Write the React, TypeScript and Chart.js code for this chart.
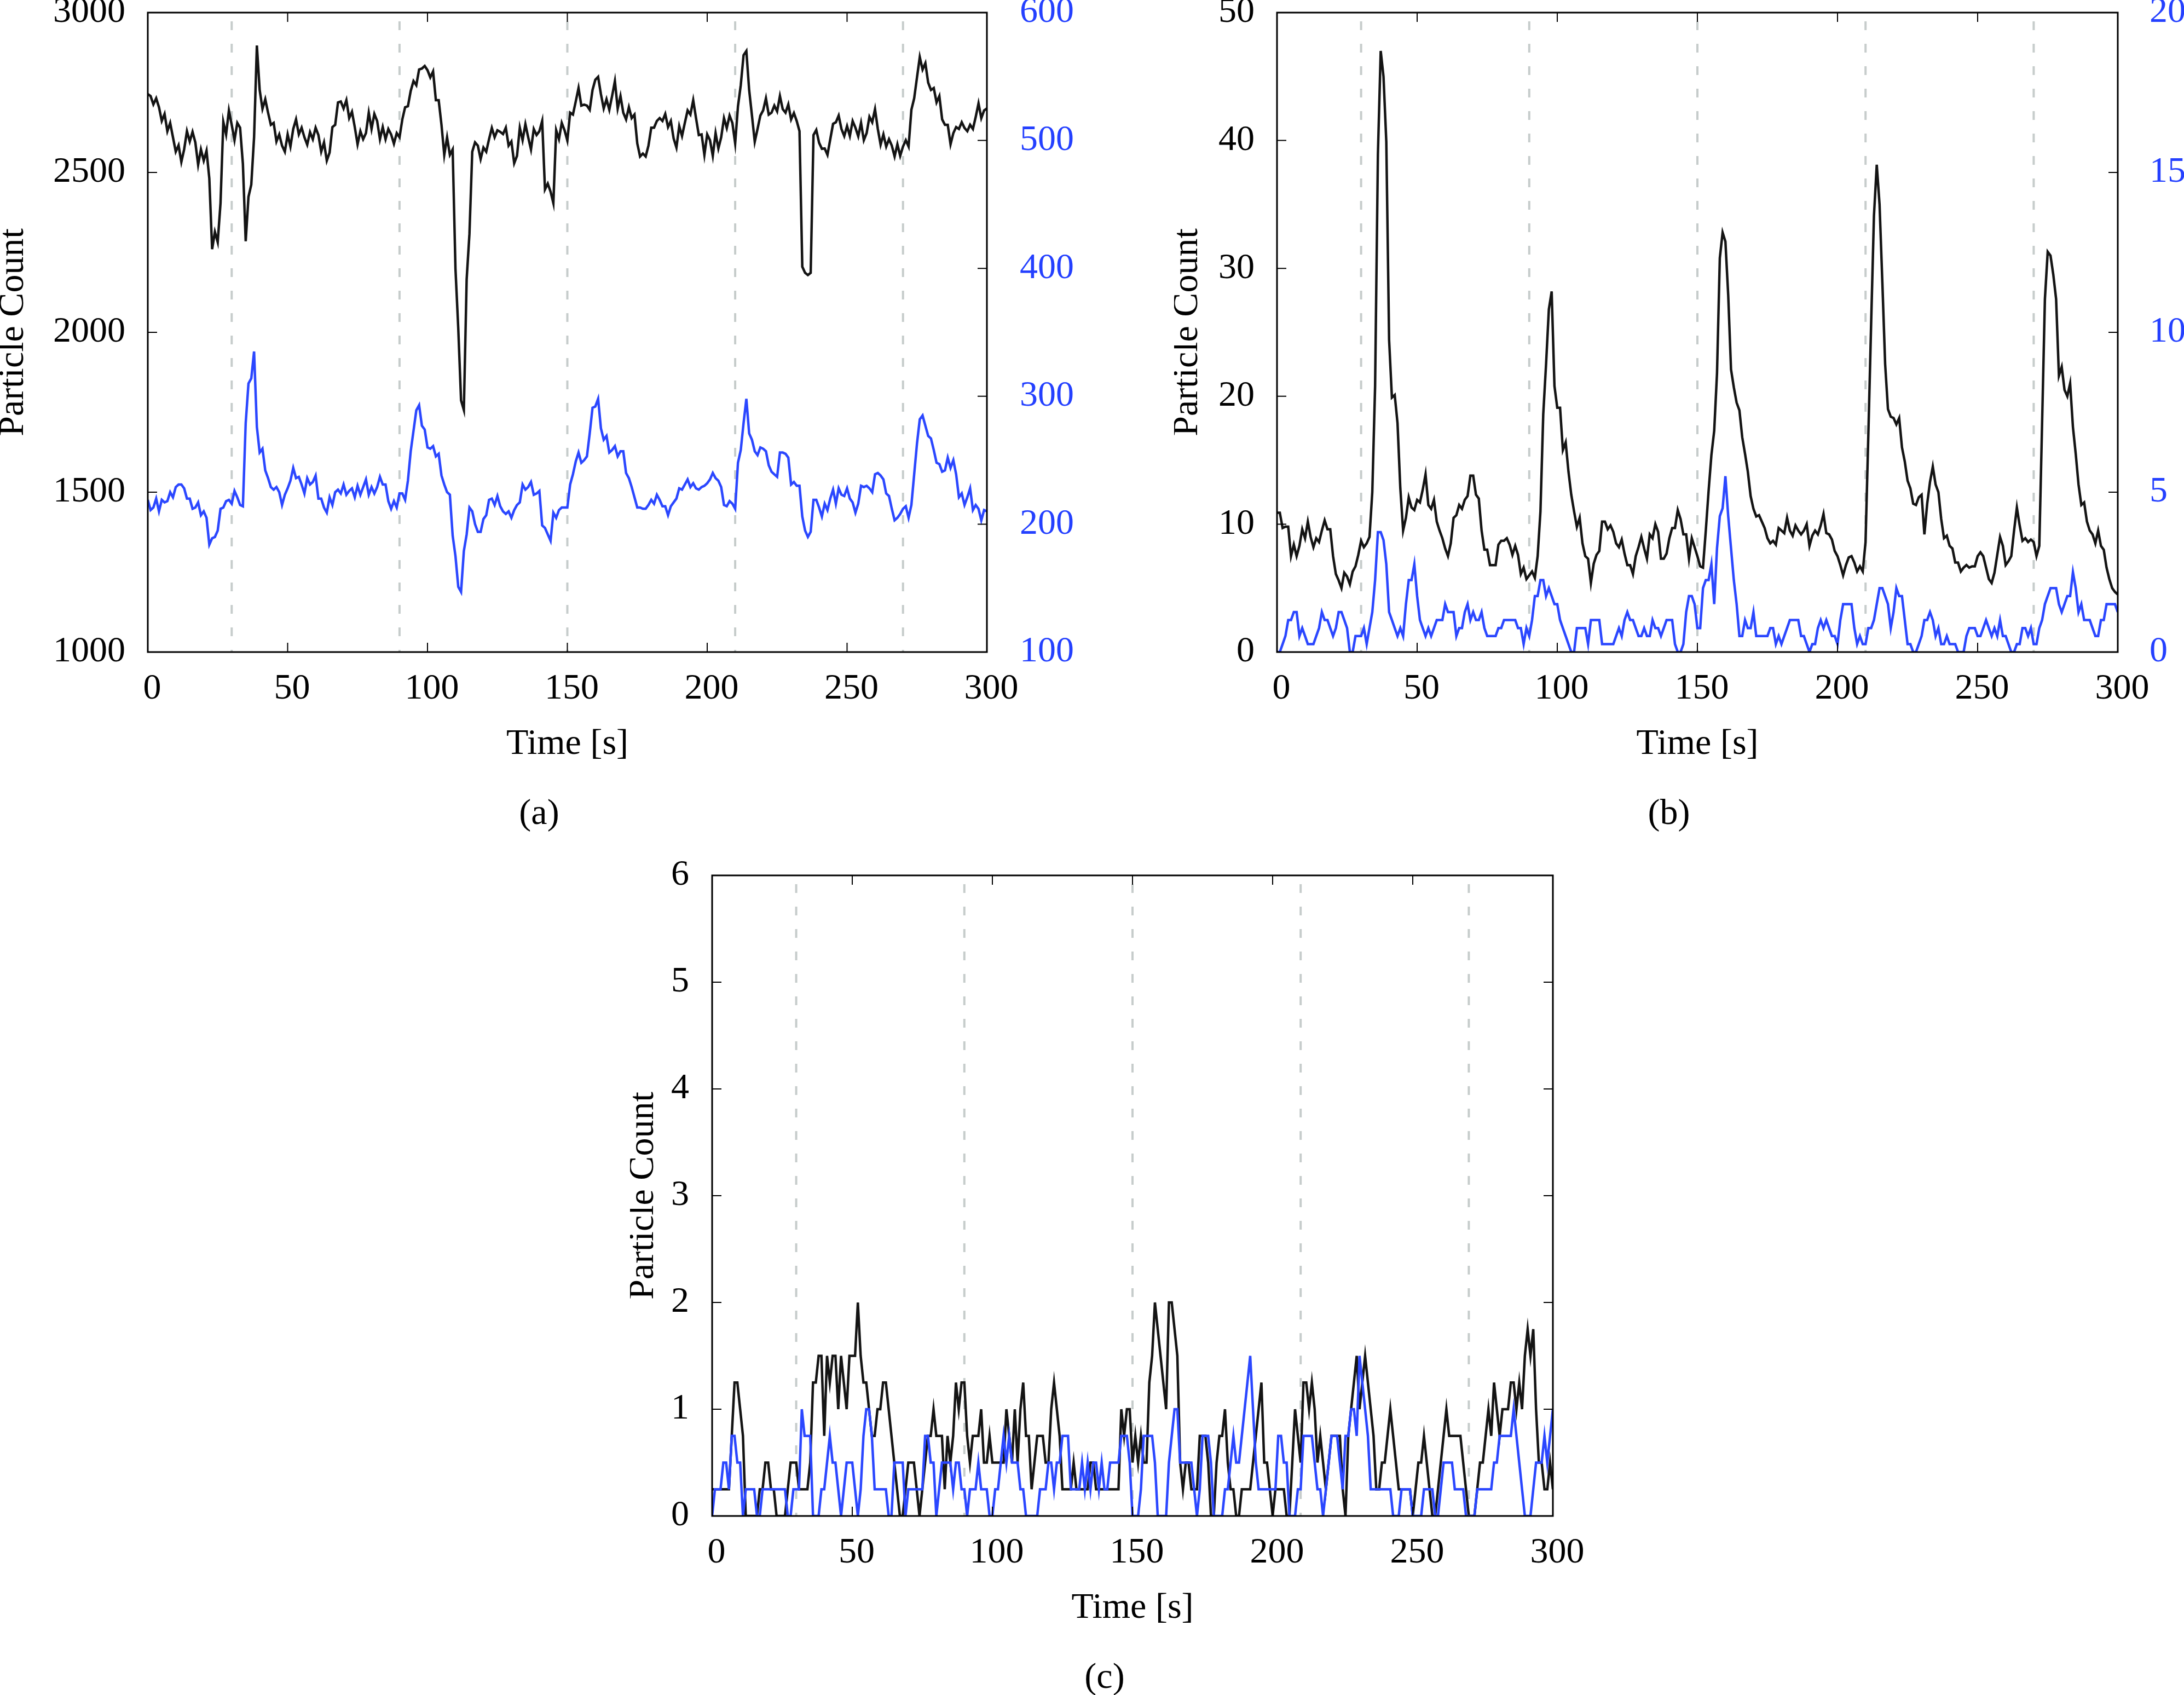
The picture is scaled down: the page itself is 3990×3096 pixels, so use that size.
import React, { useEffect, useRef } from "react";
import { Chart, registerables } from "chart.js";

Chart.register(...registerables);

// ---------------------------------------------------------------------------
// Data (1 s sampling from 0 to 300 s)
// ---------------------------------------------------------------------------
const TIME_S: number[] = Array.from({ length: 301 }, (_, i) => i); // sampling grid
const X_TICK_STEP = 50;
const EVENT_TIMES = [30, 90, 150, 210, 270];
const CAPTIONS = ["(a)", "(b)", "(c)"];
const X_TITLE = "Time [s]";
const Y_TITLE = "Particle Count";

// Panel (a): black on left axis (1000-3000), blue on right axis (100-600)
const A_BLACK = [
  2745, 2739, 2713, 2732, 2704, 2661, 2683, 2629, 2655, 2610,
  2565, 2585, 2533, 2572, 2629, 2597, 2627, 2594, 2524, 2572,
  2537, 2568, 2481, 2260, 2314, 2282, 2404, 2658, 2619, 2694,
  2649, 2601, 2655, 2640, 2527, 2285, 2424, 2462, 2610, 2897,
  2758, 2699, 2729, 2687, 2649, 2655, 2597, 2619, 2584, 2565,
  2619, 2581, 2636, 2666, 2619, 2640, 2610, 2587, 2626, 2604,
  2640, 2617, 2565, 2594, 2537, 2562, 2642, 2649, 2719, 2722,
  2700, 2726, 2670, 2690, 2642, 2588, 2629, 2604, 2623, 2687,
  2636, 2683, 2661, 2604, 2642, 2604, 2636, 2619, 2590, 2623,
  2610, 2666, 2704, 2707, 2755, 2786, 2773, 2822, 2825, 2833,
  2820, 2797, 2816, 2726, 2726, 2649, 2555, 2610, 2555, 2572,
  2199, 2012, 1787, 1757, 2166, 2308, 2565, 2594, 2584, 2542,
  2578, 2565, 2604, 2639, 2610, 2632, 2627, 2620, 2640, 2584,
  2597, 2529, 2552, 2640, 2601, 2651, 2610, 2572, 2636, 2617,
  2629, 2661, 2447, 2465, 2440, 2404, 2632, 2604, 2655, 2632,
  2600, 2687, 2681, 2722, 2764, 2709, 2712, 2709, 2696, 2758,
  2790, 2799, 2745, 2700, 2729, 2696, 2739, 2786, 2700, 2739,
  2687, 2666, 2704, 2670, 2681, 2591, 2550, 2559, 2550, 2584,
  2640, 2640, 2661, 2670, 2661, 2683, 2642, 2661, 2606, 2578,
  2645, 2614, 2655, 2694, 2681, 2726, 2670, 2617, 2619, 2555,
  2619, 2601, 2552, 2623, 2575, 2610, 2670, 2639, 2678, 2655,
  2591, 2707, 2773, 2867, 2880, 2758, 2678, 2596, 2636, 2678,
  2694, 2732, 2681, 2687, 2709, 2691, 2739, 2698, 2687, 2713,
  2666, 2686, 2661, 2629, 2205, 2186, 2179, 2186, 2617, 2633,
  2593, 2574, 2575, 2555, 2604, 2652, 2657, 2678, 2636, 2614,
  2645, 2614, 2661, 2640, 2613, 2655, 2601, 2623, 2674, 2657,
  2698, 2636, 2587, 2619, 2581, 2604, 2584, 2550, 2588, 2552,
  2581, 2601, 2581, 2696, 2732, 2797, 2861, 2822, 2842, 2781,
  2758, 2764, 2719, 2739, 2666, 2649, 2649, 2588, 2623, 2642,
  2636, 2657, 2639, 2629, 2649, 2636, 2674, 2716, 2670, 2694,
  2700,
];
const A_BLUE = [
  219, 211, 213, 220, 210, 219, 217, 218, 225, 221,
  229, 231, 231, 228, 220, 220, 212, 213, 217, 207,
  210, 205, 184, 189, 190, 195, 212, 213, 218, 219,
  216, 226, 221, 215, 214, 279, 310, 314, 335, 276,
  256, 259, 242, 236, 229, 227, 229, 225, 215, 223,
  228, 234, 244, 236, 237, 231, 224, 236, 231, 233,
  238, 220, 220, 213, 209, 221, 215, 225, 227, 224,
  231, 223, 226, 228, 221, 230, 223, 229, 235, 223,
  229, 224, 229, 237, 231, 231, 218, 212, 218, 213,
  224, 224, 219, 234, 257, 273, 289, 293, 277, 274,
  260, 259, 261, 253, 255, 238, 231, 225, 223, 191,
  175, 151, 147, 179, 192, 213, 210, 200, 194, 194,
  204, 207, 219, 220, 215, 222, 214, 210, 208, 210,
  205, 211, 215, 217, 231, 227, 229, 233, 223, 224,
  226, 199, 197, 192, 187, 209, 205, 211, 213, 213,
  213, 231, 239, 249, 256, 248, 250, 253, 271, 291,
  292, 298, 275, 266, 269, 256, 258, 261, 253, 257,
  257, 240, 236, 229, 221, 213, 213, 212, 212, 215,
  219, 216, 223, 219, 214, 214, 207, 214, 217, 220,
  228, 227, 231, 235, 229, 232, 228, 227, 229, 230,
  232, 235, 240, 236, 234, 229, 215, 214, 218, 216,
  212, 248, 258, 279, 298, 271, 266, 257, 254, 260,
  259, 257, 246, 241, 239, 237, 256, 256, 255, 252,
  231, 233, 230, 230, 206, 195, 190, 194, 219, 219,
  213, 206, 216, 211, 220, 227, 216, 228, 223, 222,
  228, 220, 217, 209, 216, 230, 229, 230, 228, 225,
  239, 240, 238, 235, 224, 222, 212, 203, 205, 208,
  212, 214, 205, 215, 239, 263, 282, 285, 277, 269,
  267, 258, 248, 247, 241, 242, 252, 244, 250, 239,
  221, 224, 215, 221, 228, 211, 215, 212, 203, 211,
  210,
];

// Panel (b): black on left axis (0-50), blue on right axis (0-20)
const B_BLACK = [
  10.9, 10.9, 9.7, 9.8, 9.8, 7.5, 8.4, 7.5, 8.3, 9.6,
  8.9, 10.2, 9.0, 8.2, 8.9, 8.6, 9.5, 10.3, 9.6, 9.6,
  7.5, 6.1, 5.6, 5.0, 6.2, 5.9, 5.3, 6.3, 6.7, 7.6,
  8.7, 8.2, 8.5, 9.0, 12.5, 20.8, 38.9, 47.0, 45.0, 39.9,
  24.4, 19.9, 20.1, 17.9, 12.8, 9.5, 10.5, 12.1, 11.3, 11.1,
  11.9, 11.7, 12.7, 13.9, 11.5, 11.2, 11.9, 10.2, 9.5, 8.9,
  8.1, 7.5, 8.5, 10.5, 10.7, 11.5, 11.2, 11.9, 12.2, 13.8,
  13.8, 12.3, 12.0, 9.5, 8.0, 8.0, 6.8, 6.8, 6.8, 8.4,
  8.7, 8.7, 8.9, 8.4, 7.6, 8.3, 7.6, 6.1, 6.6, 5.7,
  6.0, 6.3, 5.8, 7.5, 11.0, 18.6, 22.5, 26.8, 28.2, 20.8,
  19.1, 19.1, 15.8, 16.4, 14.1, 12.3, 11.0, 9.8, 10.5, 8.5,
  7.5, 7.3, 5.4, 6.9, 7.6, 7.9, 10.2, 10.2, 9.6, 9.9,
  9.4, 8.5, 8.2, 8.8, 7.7, 6.8, 6.8, 6.1, 7.5, 8.2,
  9.0, 8.1, 7.3, 9.2, 8.9, 10.0, 9.4, 7.3, 7.3, 7.7,
  8.9, 9.7, 9.7, 11.1, 10.4, 9.2, 9.2, 7.3, 8.9, 8.2,
  7.5, 6.7, 6.6, 9.5, 12.6, 15.4, 17.3, 21.8, 30.8, 32.8,
  32.1, 27.9, 22.1, 20.7, 19.5, 18.9, 16.8, 15.5, 14.1, 12.2,
  11.2, 10.6, 10.7, 10.2, 9.7, 8.9, 8.5, 8.7, 8.4, 9.7,
  9.5, 9.3, 10.5, 9.5, 9.1, 9.9, 9.5, 9.2, 9.5, 10.0,
  8.3, 9.1, 9.5, 9.2, 9.9, 10.8, 9.3, 9.2, 8.8, 7.9,
  7.5, 6.8, 6.0, 6.8, 7.4, 7.5, 7.0, 6.3, 6.7, 6.3,
  8.6, 17.0, 25.7, 34.1, 38.1, 35.0, 28.9, 22.5, 19.0, 18.4,
  18.3, 17.8, 18.3, 16.0, 14.9, 13.4, 12.8, 11.6, 11.5, 12.1,
  12.3, 9.2, 11.6, 13.3, 14.5, 13.1, 12.5, 10.4, 8.9, 9.1,
  8.3, 8.1, 7.0, 7.0, 6.3, 6.6, 6.8, 6.6, 6.7, 6.7,
  7.5, 7.8, 7.5, 6.6, 5.7, 5.4, 6.2, 7.6, 9.0, 8.3,
  6.8, 7.1, 7.5, 9.5, 11.3, 9.9, 8.7, 8.9, 8.6, 8.8,
  8.6, 7.5, 8.3, 17.9, 27.6, 31.3, 31.0, 29.5, 27.6, 21.6,
  22.3, 20.5, 20.0, 21.0, 17.6, 15.5, 13.1, 11.5, 11.7, 10.2,
  9.5, 9.2, 8.5, 9.5, 8.3, 8.0, 6.6, 5.7, 5.0, 4.7,
  4.5,
];
const B_BLUE = [
  0, 0, 0.25, 0.5, 1.0, 1.0, 1.25, 1.25, 0.5, 0.75,
  0.5, 0.25, 0.25, 0.25, 0.5, 0.75, 1.25, 1.0, 1.0, 0.75,
  0.5, 0.75, 1.25, 1.25, 1.0, 0.75, 0, 0, 0.5, 0.5,
  0.5, 0.75, 0.25, 0.75, 1.25, 2.25, 3.75, 3.75, 3.5, 2.75,
  1.25, 1.0, 0.75, 0.5, 0.75, 0.5, 1.5, 2.25, 2.25, 2.75,
  1.75, 1.0, 0.75, 0.5, 0.75, 0.5, 0.75, 1.0, 1.0, 1.0,
  1.5, 1.25, 1.25, 1.25, 0.5, 0.75, 0.75, 1.25, 1.5, 1.0,
  1.25, 1.0, 1.0, 1.25, 0.75, 0.5, 0.5, 0.5, 0.5, 0.75,
  0.75, 1.0, 1.0, 1.0, 1.0, 1.0, 0.75, 0.75, 0.25, 0.75,
  0.5, 1.0, 1.75, 1.75, 2.25, 2.25, 1.75, 2.0, 1.75, 1.5,
  1.5, 1.0, 0.75, 0.5, 0.25, 0, 0, 0.75, 0.75, 0.75,
  0.75, 0.25, 1.0, 1.0, 1.0, 1.0, 0.25, 0.25, 0.25, 0.25,
  0.25, 0.5, 0.75, 0.5, 1.0, 1.25, 1.0, 1.0, 0.75, 0.5,
  0.5, 0.75, 0.5, 0.5, 1.0, 0.75, 0.75, 0.5, 0.75, 1.0,
  1.0, 1.0, 0.25, 0, 0, 0.25, 1.25, 1.75, 1.75, 1.5,
  0.75, 0.75, 2.0, 2.25, 2.25, 2.75, 1.5, 3.25, 4.25, 4.5,
  5.5, 4.25, 3.25, 2.25, 1.5, 0.5, 0.5, 1.0, 0.75, 0.75,
  1.25, 0.5, 0.5, 0.5, 0.5, 0.5, 0.75, 0.75, 0.25, 0.5,
  0.25, 0.5, 0.75, 1.0, 1.0, 1.0, 1.0, 0.5, 0.5, 0.25,
  0, 0.25, 0.25, 0.75, 1.0, 0.75, 1.0, 0.75, 0.5, 0.5,
  0.25, 1.0, 1.5, 1.5, 1.5, 1.5, 0.75, 0.25, 0.5, 0.25,
  0.25, 0.75, 0.75, 1.0, 1.5, 2.0, 2.0, 1.75, 1.5, 0.75,
  1.25, 2.0, 1.75, 1.75, 1.0, 0.25, 0.25, 0, 0, 0.25,
  0.5, 1.0, 1.0, 1.25, 1.0, 0.5, 0.75, 0.25, 0.25, 0.5,
  0.25, 0.25, 0.25, 0, 0, 0, 0.5, 0.75, 0.75, 0.75,
  0.5, 0.5, 0.75, 1.0, 0.75, 0.5, 0.75, 0.5, 1.0, 0.5,
  0.5, 0.25, 0, 0, 0.25, 0.25, 0.75, 0.75, 0.5, 0.75,
  0.25, 0.25, 0.75, 1.0, 1.5, 1.75, 2.0, 2.0, 2.0, 1.5,
  1.25, 1.5, 1.75, 1.75, 2.5, 2.0, 1.25, 1.5, 1.0, 1.0,
  1.0, 0.75, 0.5, 0.5, 1.0, 1.0, 1.5, 1.5, 1.5, 1.5,
  1.25,
];

// Panel (c): both series on a single axis (0-6)
const C_BLACK = [
  0.25, 0.25, 0.25, 0.25, 0.25, 0.25, 0.25, 0.75, 1.25, 1.25,
  1.0, 0.75, 0, 0, 0, 0, 0, 0.25, 0.25, 0.5,
  0.5, 0.25, 0.25, 0, 0, 0, 0, 0.25, 0.5, 0.5,
  0.5, 0.25, 0.25, 0.25, 0.25, 0.5, 1.25, 1.25, 1.5, 1.5,
  0.75, 1.5, 1.25, 1.5, 1.5, 1.0, 1.5, 1.25, 1.0, 1.5,
  1.5, 1.5, 2.0, 1.5, 1.25, 1.25, 1.0, 0.75, 0.75, 1.0,
  1.0, 1.25, 1.25, 1.0, 0.75, 0.5, 0.25, 0, 0, 0.25,
  0.5, 0.5, 0.5, 0.25, 0, 0.25, 0.5, 0.75, 0.75, 1.0,
  0.75, 0.75, 0.75, 0.25, 0.75, 0.5, 0.75, 1.25, 1.0, 1.25,
  1.25, 0.75, 0.5, 0.75, 0.75, 0.75, 1.0, 0.5, 0.5, 0.75,
  0.5, 0.5, 0.5, 0.5, 0.5, 1.0, 0.75, 0.5, 1.0, 0.5,
  1.0, 1.25, 0.75, 0.75, 0.25, 0.5, 0.75, 0.75, 0.75, 0.5,
  0.5, 1.0, 1.25, 1.0, 0.75, 0.25, 0.25, 0.25, 0.25, 0.5,
  0.25, 0.25, 0.25, 0.25, 0.25, 0.5, 0.5, 0.25, 0.25, 0.25,
  0.25, 0.25, 0.25, 0.25, 0.25, 0.25, 1.0, 0.75, 1.0, 1.0,
  0.5, 0.75, 0.5, 0.75, 0.5, 0.5, 1.25, 1.5, 2.0, 1.75,
  1.5, 1.25, 1.0, 2.0, 2.0, 1.75, 1.5, 0.5, 0.25, 0.5,
  0.5, 0.25, 0.25, 0.25, 0.75, 0.75, 0.75, 0.5, 0, 0,
  0.5, 0.75, 0.75, 1.0, 0.5, 0.25, 0.25, 0, 0, 0.25,
  0.25, 0.25, 0.25, 0.5, 0.75, 1.0, 1.25, 0.5, 0.5, 0.25,
  0, 0.25, 0.25, 0.25, 0.25, 0, 0, 0.5, 1.0, 0.75,
  0.5, 1.25, 1.25, 1.0, 1.25, 1.0, 0.5, 0.75, 0.5, 0.25,
  0.5, 0.75, 0.75, 0.75, 0.75, 0.25, 0, 0.75, 1.0, 1.25,
  1.5, 1.0, 1.25, 1.5, 1.25, 1.0, 0.75, 0.25, 0.25, 0.5,
  0.5, 0.75, 1.0, 0.75, 0.5, 0.25, 0.25, 0.25, 0.25, 0.25,
  0, 0.25, 0.5, 0.5, 0.75, 0.5, 0.25, 0, 0, 0.25,
  0.5, 0.75, 1.0, 0.75, 0.75, 0.75, 0.75, 0.75, 0.5, 0.25,
  0, 0, 0, 0.25, 0.5, 0.5, 0.75, 1.0, 0.75, 1.25,
  1.0, 0.75, 1.0, 1.0, 1.0, 1.25, 1.25, 1.0, 1.25, 1.0,
  1.5, 1.75, 1.5, 1.75, 1.0, 0.5, 0.5, 0.25, 0.25, 0.5,
  0.25,
];
const C_BLUE = [
  0, 0.25, 0.25, 0.25, 0.5, 0.5, 0.25, 0.75, 0.75, 0.5,
  0.5, 0, 0.25, 0.25, 0.25, 0.25, 0, 0, 0.25, 0.25,
  0.25, 0.25, 0.25, 0.25, 0.25, 0.25, 0.25, 0, 0, 0.25,
  0.25, 0.25, 1.0, 0.75, 0.75, 0.75, 0, 0, 0, 0.25,
  0.25, 0.5, 0.75, 0.5, 0.5, 0.25, 0, 0.25, 0.5, 0.5,
  0.5, 0.25, 0, 0.25, 0.75, 1.0, 1.0, 0.75, 0.25, 0.25,
  0.25, 0.25, 0.25, 0, 0, 0.5, 0.5, 0.5, 0.5, 0,
  0.25, 0.25, 0.25, 0.25, 0.25, 0.25, 0.75, 0.75, 0.5, 0.5,
  0, 0.25, 0.5, 0.5, 0.5, 0.5, 0.25, 0.5, 0.5, 0.25,
  0.25, 0, 0.25, 0.25, 0.25, 0.5, 0.25, 0.25, 0.25, 0,
  0, 0.25, 0.25, 0.5, 0.75, 0.5, 0.75, 0.5, 0.5, 0.5,
  0.25, 0.25, 0, 0, 0, 0, 0, 0.25, 0.25, 0.25,
  0.5, 0.5, 0.25, 0.5, 0.5, 0.75, 0.75, 0.75, 0.25, 0.25,
  0.25, 0.25, 0.5, 0.25, 0.5, 0.25, 0.5, 0.5, 0.25, 0.5,
  0.25, 0.25, 0.5, 0.5, 0.5, 0.5, 0.75, 0.75, 0.75, 0.5,
  0, 0, 0, 0.25, 0.75, 0.75, 0.75, 0.75, 0.5, 0,
  0, 0, 0, 0.5, 0.75, 1.0, 1.0, 0.5, 0.5, 0.5,
  0.5, 0.5, 0.25, 0, 0.25, 0.75, 0.75, 0.75, 0.5, 0,
  0, 0, 0, 0.25, 0.25, 0.5, 0.75, 0.5, 0.5, 0.75,
  1.0, 1.25, 1.5, 1.0, 0.5, 0.25, 0.25, 0.25, 0.25, 0.25,
  0.25, 0.25, 0.75, 0.75, 0.5, 0.5, 0, 0, 0, 0.25,
  0.25, 0.75, 0.75, 0.75, 0.75, 0.5, 0.25, 0.25, 0, 0.25,
  0.5, 0.75, 0.75, 0.75, 0.5, 0.25, 0.75, 0.75, 1.0, 1.0,
  0.75, 1.5, 1.25, 1.0, 0.75, 0.25, 0.25, 0.25, 0.25, 0.25,
  0.25, 0.25, 0.25, 0, 0, 0, 0.25, 0.25, 0.25, 0.25,
  0, 0, 0, 0, 0.25, 0.25, 0.25, 0.25, 0, 0,
  0.25, 0.5, 0.5, 0.5, 0.5, 0.25, 0.25, 0.25, 0.25, 0,
  0, 0, 0, 0.25, 0.25, 0.25, 0.25, 0.25, 0.25, 0.5,
  0.5, 0.75, 0.75, 0.75, 0.75, 0.75, 1.0, 0.75, 0.5, 0.25,
  0, 0, 0, 0.25, 0.5, 0.5, 0.5, 0.75, 0.5, 0.75,
  1.0,
];

// ---------------------------------------------------------------------------
// Styling
// ---------------------------------------------------------------------------
const FONT_FAMILY = "'Liberation Serif', 'Times New Roman', Times, serif";
const FONT_SIZE = 66;
const BLACK = "#141414";
const BLUE = "#2b47ff";
const BLUE_TEXT = "#2440ff";
const DASH_COLOR = "#c6cccb";
const LINE_WIDTH = 4.5;

const axisFramePlugin = {
  id: "axisFrame",
  beforeDatasetsDraw(chart: any, _args: any, opts: any) {
    const { ctx, chartArea: a, scales } = chart;
    ctx.save();
    ctx.beginPath();
    ctx.rect(a.left, a.top, a.right - a.left, a.bottom - a.top);
    ctx.clip();
    ctx.strokeStyle = DASH_COLOR;
    ctx.lineWidth = 4;
    ctx.setLineDash([16, 25]);
    ctx.lineDashOffset = 25;
    for (const t of opts.events || []) {
      const x = scales.x.getPixelForValue(t);
      ctx.beginPath();
      ctx.moveTo(x, a.top);
      ctx.lineTo(x, a.bottom);
      ctx.stroke();
    }
    ctx.restore();
  },
  afterDatasetsDraw(chart: any, _args: any, opts: any) {
    const { ctx, chartArea: a, scales } = chart;
    const L = 17;
    const inner = (s: any) =>
      s.ticks.map((t: any) => t.value).filter((v: number) => v > s.min && v < s.max);
    ctx.save();
    ctx.setLineDash([]);
    ctx.strokeStyle = "#000";
    ctx.lineWidth = 2;
    ctx.beginPath();
    for (const v of inner(scales.x)) {
      const x = scales.x.getPixelForValue(v);
      ctx.moveTo(x, a.bottom);
      ctx.lineTo(x, a.bottom - L);
      ctx.moveTo(x, a.top);
      ctx.lineTo(x, a.top + L);
    }
    for (const v of inner(scales.y)) {
      const y = scales.y.getPixelForValue(v);
      ctx.moveTo(a.left, y);
      ctx.lineTo(a.left + L, y);
      if (!opts.rightScale) {
        ctx.moveTo(a.right, y);
        ctx.lineTo(a.right - L, y);
      }
    }
    if (opts.rightScale) {
      const s = scales[opts.rightScale];
      for (const v of inner(s)) {
        const y = s.getPixelForValue(v);
        ctx.moveTo(a.right, y);
        ctx.lineTo(a.right - L, y);
      }
    }
    ctx.stroke();
    ctx.lineWidth = 3;
    ctx.strokeRect(a.left, a.top, a.right - a.left, a.bottom - a.top);
    ctx.restore();
  },
};

type PanelSpec = {
  left: number;
  top: number;
  width: number;
  height: number;
  padTop: number;
  padRight: number;
  leftW: number;
  rightW: number;
  xH: number;
  black: number[];
  blue: number[];
  yMin: number;
  yMax: number;
  yStep: number;
  y2?: { min: number; max: number; step: number; padding: number };
  leftPad: number;
};

const tickFont = { family: FONT_FAMILY, size: FONT_SIZE, lineHeight: 1.2 };
const plainNumber = (v: any) => String(v);

// fix a scale's box and drop its automatic label-overflow padding
const fixBox = (dim: "width" | "height", size: number) => (s: any) => {
  s[dim] = size;
  s.paddingTop = 0;
  s.paddingBottom = 0;
  s.paddingLeft = 0;
  s.paddingRight = 0;
};

function buildConfig(p: PanelSpec): any {
  const toPts = (arr: number[]) => TIME_S.map((t, i) => ({ x: t, y: arr[i] }));
  const hidden = {
    grid: { display: false, drawTicks: false, tickLength: 0 },
    border: { display: false },
  };
  const scales: any = {
    x: {
      type: "linear",
      min: 0,
      max: 300,
      ...hidden,
      afterFit: fixBox("height", p.xH),
      ticks: {
        stepSize: X_TICK_STEP,
        autoSkip: false,
        maxRotation: 0,
        minRotation: 0,
        padding: 28,
        labelOffset: 8,
        color: "#000",
        font: tickFont,
        callback: plainNumber,
      },
      title: {
        display: true,
        text: X_TITLE,
        color: "#000",
        font: { family: FONT_FAMILY, size: FONT_SIZE, lineHeight: 1.2 },
        padding: { top: 0, bottom: 1 },
      },
    },
    y: {
      type: "linear",
      position: "left",
      min: p.yMin,
      max: p.yMax,
      ...hidden,
      afterFit: fixBox("width", p.leftW),
      ticks: {
        stepSize: p.yStep,
        padding: p.leftPad,
        color: "#000",
        font: tickFont,
        callback: plainNumber,
      },
      title: {
        display: true,
        text: Y_TITLE,
        color: "#000",
        font: { family: FONT_FAMILY, size: FONT_SIZE, lineHeight: 0.76 },
        padding: { top: 0, bottom: 0 },
      },
    },
  };
  if (p.y2) {
    scales.y2 = {
      type: "linear",
      position: "right",
      min: p.y2.min,
      max: p.y2.max,
      ...hidden,
      afterFit: fixBox("width", p.rightW),
      ticks: {
        stepSize: p.y2.step,
        padding: p.y2.padding,
        color: BLUE_TEXT,
        font: tickFont,
        callback: plainNumber,
      },
    };
  }
  return {
    type: "line",
    data: {
      datasets: [
        {
          label: "blue",
          data: toPts(p.blue),
          yAxisID: p.y2 ? "y2" : "y",
          borderColor: BLUE,
          backgroundColor: BLUE,
          borderWidth: LINE_WIDTH,
          pointRadius: 0,
          tension: 0,
          order: 0,
        },
        {
          label: "black",
          data: toPts(p.black),
          yAxisID: "y",
          borderColor: BLACK,
          backgroundColor: BLACK,
          borderWidth: LINE_WIDTH,
          pointRadius: 0,
          tension: 0,
          order: 1,
        },
      ],
    },
    options: {
      animation: false,
      responsive: false,
      maintainAspectRatio: false,
      devicePixelRatio: 1,
      layout: { padding: { top: p.padTop, right: p.padRight, left: 0, bottom: 0 } },
      plugins: {
        legend: { display: false },
        tooltip: { enabled: false },
        axisFrame: { events: EVENT_TIMES, rightScale: p.y2 ? "y2" : null },
      },
      scales,
    },
    plugins: [axisFramePlugin],
  };
}

const PANELS: PanelSpec[] = [
  {
    left: 0, top: 0, width: 1990, height: 1400, padTop: 23, padRight: 0,
    leftW: 270, rightW: 187, xH: 209, leftPad: 41,
    black: A_BLACK, blue: A_BLUE, yMin: 1000, yMax: 3000, yStep: 500,
    y2: { min: 100, max: 600, step: 100, padding: 60 },
  },
  {
    left: 2145, top: 0, width: 1845, height: 1400, padTop: 23, padRight: 0,
    leftW: 188, rightW: 121, xH: 209, leftPad: 41,
    black: B_BLACK, blue: B_BLUE, yMin: 0, yMax: 50, yStep: 10,
    y2: { min: 0, max: 20, step: 5, padding: 58 },
  },
  {
    left: 1151, top: 1560, width: 1766, height: 1418, padTop: 39, padRight: 80,
    leftW: 150, rightW: 0, xH: 209, leftPad: 42,
    black: C_BLACK, blue: C_BLUE, yMin: 0, yMax: 6, yStep: 1,
  },
];

const CAPTION_POS = [
  { cx: 985, baseline: 1505 },
  { cx: 3049, baseline: 1505 },
  { cx: 2018, baseline: 3083 },
];

function Panel({ spec }: { spec: PanelSpec }) {
  const ref = useRef<HTMLCanvasElement>(null);
  useEffect(() => {
    if (!ref.current) return;
    const chart = new Chart(ref.current, buildConfig(spec));
    return () => chart.destroy();
  }, [spec]);
  return (
    <canvas
      ref={ref}
      width={spec.width}
      height={spec.height}
      style={{
        position: "absolute",
        left: spec.left,
        top: spec.top,
        width: spec.width,
        height: spec.height,
      }}
    />
  );
}

export default function App() {
  return (
    <div
      style={{
        position: "absolute",
        left: 0,
        top: 0,
        width: 3990,
        height: 3096,
        overflow: "hidden",
        background: "#fff",
      }}
    >
      {PANELS.map((p, i) => (
        <Panel key={i} spec={p} />
      ))}
      {CAPTIONS.map((c, i) => (
        <div
          key={c}
          style={{
            position: "absolute",
            left: CAPTION_POS[i].cx - 150,
            width: 300,
            top: CAPTION_POS[i].baseline - 55,
            textAlign: "center",
            fontFamily: FONT_FAMILY,
            fontSize: FONT_SIZE,
            lineHeight: `${FONT_SIZE}px`,
            color: "#000",
          }}
        >
          {c}
        </div>
      ))}
    </div>
  );
}
